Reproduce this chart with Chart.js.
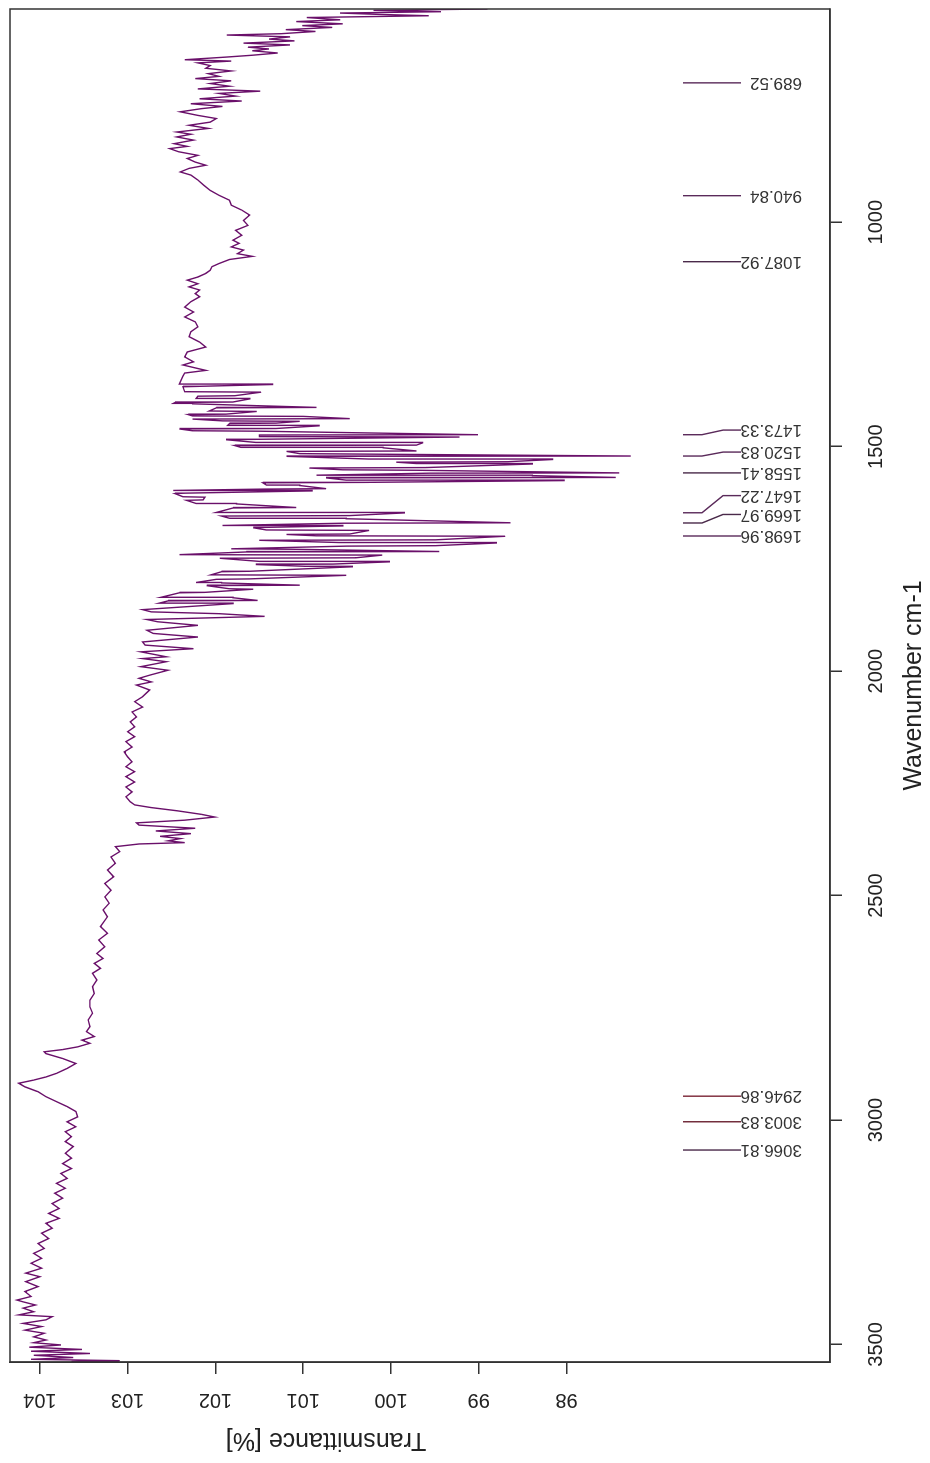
<!DOCTYPE html>
<html>
<head>
<meta charset="utf-8">
<title>IR spectrum</title>
<script src="https://cdn.jsdelivr.net/npm/chart.js"></script>
<style>
  html, body { margin: 0; padding: 0; background: #fff; }
  #wrap { position: relative; width: 930px; height: 1463px; overflow: hidden; }
  /* the plot is drawn landscape and turned a quarter turn, like the scan */
  #mycanvas { position: absolute; left: 0; top: 0; transform-origin: 0 0; transform: translateY(1463px) rotate(-90deg); }
</style>
</head>
<body>
<div id="wrap"><canvas id="mycanvas" width="1463" height="930"></canvas></div>
<script>
// spectrum (cm-1 / %)
var wavenumber = [
	3539,3538,3536,3533,3529,3524,3520,3515, 3511,3506,3501,3496,3490,3483,3475,3468,
	3460,3453,3445,3438,3434,3427,3419,3412, 3405,3401,3393,3382,3371,3360,3349,3341,
	3330,3319,3308,3297,3286,3275,3264,3252, 3241,3230,3219,3208,3197,3186,3174,3163,
	3152,3141,3130,3119,3108,3097,3085,3074, 3059,3048,3037,3026,3015,3004,2993,2981,
	2970,2959,2948,2937,2926,2918,2911,2904, 2896,2885,2874,2863,2852,2848,2843,2837,
	2829,2822,2814,2803,2792,2777,2762,2748, 2733,2718,2703,2688,2673,2662,2651,2640,
	2629,2614,2599,2584,2569,2547,2532,2517, 2503,2488,2473,2458,2443,2428,2414,2402,
	2391,2385,2382,2378,2373,2368,2362,2356, 2350,2343,2338,2332,2325,2319,2311,2304,
	2298,2291,2280,2269,2258,2247,2235,2224, 2213,2202,2191,2180,2169,2157,2146,2135,
	2124,2113,2102,2091,2080,2068,2057,2042, 2031,2024,2016,2009,1998,1990,1979,1972,
	1968,1957,1950,1942,1935,1924,1916,1909, 1898,1890,1885,1878,1872,1868,1863,
	// busy band 1850 - 1360
	1849.5,1848.5,1843.5,1842.5,1836.5,1835.5,1825.5,1824.5,1817.5,1816.5,
	1809.5,1808.5,1803.5,1802.5,1795.5,1794.5,1786.5,1785.5,1778.5,1777.5,
	1767.5,1766.5,1762.5,1761.5,1756.5,1755.5,1748.5,1747.5,1741.5,1740.5,
	1734.5,1733.5,1728.5,1727.5,1721.5,1720.5,1714.5,1713.5,1708.5,1707.5,
	1699.5,1698.5,1695.5,1694.5,1686.5,1685.5,1680.5,1679.5,1676.5,1675.5,
	1670.5,1669.5,1660.5,1659.5,1654.5,1653.5,1647.5,1646.5,1636.5,1635.5,
	1627.5,1626.5,1619.5,1618.5,1612.5,1611.5,1604.5,1603.5,1598.5,1597.5,
	1594.5,1593.5,1586.5,1585.5,1580.5,1579.5,1575.5,1574.5,1569.5,1568.5,
	1564.5,1563.5,1559,1558.4,1552.5,1551.5,1547.5,1546.5,1538.5,1537.5,
	1534.5,1533.5,1528.5,1527.5,1521.5,1520.8,1516.5,1515.5,1510.5,1509.5,
	1502.5,1501.5,1497.5,1496.5,1491.5,1490.5,1484.5,1483.5,1478.5,1477.5,
	1474,1473.3,1465.5,1464.5,1460.5,1459.5,1453.5,1452.5,1448.5,1447.5,
	1443.5,1442.5,1438.5,1437.5,1432.5,1431.5,1428.5,1427.5,1421.5,1420.5,
	1413.5,1412.5,1404.5,1403.5,1401.5,1400.5,1393.5,1392.5,1387.5,1386.5,
	1378.5,1377.5,1366.5,1365.5,1361.5,1360.5,
	1343,1336,1330,1318,
	1311,1300,1289,1278,1267,1255,1244,1233, 1222,1211,1200,1189,1177,1166,1159,1151,
	1144,1137,1129,1122,1114,1107,1099,1092, 1083,1076,1070,1062,1055,1047,1040,1029,
	1018,1007,996,984,973,962,951,940, 929,918,906,895,888,880,873,866,
	858,851,843,836,831,825,817,810, 804,799,791,784,777,769,762,754,
	747,742,736,730,725,719,713,708, 703,697,691,685,680,675,669,663,
	657,651,645,641,638,632,628,623, 618,614,610,605,601,596,592,587,
	583,580,575,571,566,562,558,553, 549,544,540,537,534,531,528,525
];
var transmittance = [
	103.11,103.64,103.09,104.10,103.62,104.07,103.43,104.10, 103.52,104.12,103.76,104.07,103.93,104.07,103.95,104.17,
	103.98,104.19,103.93,103.86,104.24,104.07,104.19,104.05, 104.19,104.26,104.10,104.17,104.02,104.16,104.00,104.16,
	103.98,104.10,103.98,104.07,103.95,104.02,103.90,103.98, 103.86,103.93,103.78,103.90,103.78,103.86,103.74,103.83,
	103.71,103.81,103.69,103.76,103.64,103.74,103.64,103.71, 103.62,103.71,103.64,103.71,103.59,103.69,103.57,103.59,
	103.69,103.81,103.93,104.02,104.17,104.24,104.07,103.93, 103.81,103.69,103.59,103.74,103.93,103.95,103.74,103.57,
	103.43,103.52,103.38,103.47,103.43,103.45,103.40,103.43, 103.43,103.38,103.40,103.35,103.40,103.31,103.38,103.28,
	103.35,103.26,103.33,103.23,103.31,103.23,103.28,103.21, 103.26,103.19,103.26,103.16,103.23,103.14,103.19,103.09,
	103.14,102.87,102.35,102.54,102.40,102.63,102.28,102.68, 102.23,102.87,102.90,102.35,102.01,102.16,102.44,102.73,
	102.92,102.97,103.02,102.95,103.02,102.92,103.02,102.92, 103.02,102.95,103.00,103.04,102.95,103.02,102.92,103.00,
	102.92,102.97,102.90,102.95,102.83,102.92,102.83,102.75, 102.90,102.73,102.87,102.75,102.54,102.85,102.56,102.83,
	102.56,102.85,102.25,102.80,102.83,102.20,102.71,102.78, 102.20,102.66,102.78,101.44,101.96,102.73,102.83,
	// busy band 1850 - 1360
	101.80,102.64,102.54,101.52,101.80,102.62,102.41,102.12,101.57,101.84,
	102.10,101.04,101.93,102.22,101.99,101.61,100.51,102.05,101.93,101.61,
	100.44,100.97,101.54,100.66,100.02,101.50,101.95,100.40,100.10,102.41,
	101.65,99.45,101.12,101.82,100.51,99.49,98.80,100.59,101.50,99.49,
	98.70,100.85,101.19,100.47,100.25,101.42,101.57,101.38,100.55,101.92,
	100.55,98.64,100.51,101.84,101.93,100.47,99.85,101.99,101.80,101.08,
	101.76,102.22,102.33,102.14,102.12,102.37,102.46,102.35,100.90,102.48,
	101.46,100.74,101.04,101.42,101.46,100.30,98.03,100.51,100.74,97.44,
	98.39,100.85,99.56,97.40,99.71,100.55,100.93,99.60,98.39,99.71,
	99.94,98.67,98.16,100.25,101.19,97.27,100.32,101.04,101.19,99.71,
	100.09,101.71,101.78,99.71,99.64,101.54,101.88,101.50,99.22,101.50,
	101.50,99.01,101.50,102.26,102.41,101.31,100.82,101.86,101.84,101.31,
	101.04,101.92,102.26,100.47,101.00,102.26,102.31,101.88,101.53,102.07,
	101.99,100.85,102.26,102.48,102.46,101.80,101.61,102.22,102.20,101.78,
	101.48,102.35,102.37,102.18,101.35,102.41,
	102.37,102.35,102.11,102.37,
	102.25,102.35,102.32,102.11,102.18,102.30,102.28,102.20, 102.23,102.35,102.25,102.35,102.28,102.18,102.23,102.18,
	102.30,102.20,102.32,102.20,102.11,102.06,102.04,101.96, 101.84,101.58,101.75,101.68,101.82,101.73,101.80,101.70,
	101.77,101.63,101.68,101.61,101.70,101.82,101.84,101.96, 102.06,102.13,102.20,102.28,102.40,102.30,102.11,102.23,
	102.32,102.20,102.42,102.52,102.32,102.47,102.25,102.44, 102.28,102.44,102.08,102.30,102.06,101.99,102.20,102.40,
	102.16,101.92,102.28,101.70,102.18,101.77,101.96,101.49, 102.20,101.84,102.06,101.82,102.23,101.96,102.08,101.82,
	102.11,102.06,102.20,101.82,102.35,101.87,101.58,101.29, 101.58,101.39,101.63,101.15,101.68,101.10,101.39,101.15,
	101.87,101.25,100.86,101.20,100.67,101.01,100.55,101.08, 100.58,100.96,99.57,100.14,100.58,99.43,100.20,98.90
];

// picked peaks and where their labels sit along the axis
var peakWavenumber = [689.52, 940.84, 1087.92, 1473.33, 1520.83, 1558.41, 1647.22, 1669.97, 1698.96, 2946.86, 3003.83, 3066.81];
var peakLabelAt    = [689.52, 940.84, 1087.92, 1463,    1512,    1558.41, 1609,    1651,    1698.96, 2946.86, 3003.83, 3066.81];
var peakColor = ['#5a2a5a','#5a2a5a','#4a2a4a','#5a2a5a','#5a2a5a','#4a2a4a','#5a2a5a','#4a2a4a','#5a2a5a','#7a2535','#6a2030','#4a2a4a'];

var xTicks = [1000, 1500, 2000, 2500, 3000, 3500];
var yTicks = [98, 99, 100, 101, 102, 103, 104];

var fontFamily = '"Liberation Sans", Arial, sans-serif';

var points = [];
for (var i in wavenumber) {
	points.push({x: wavenumber[i], y: transmittance[i]});
}

var boxPlugin = {
	id: 'box',
	afterDraw: function(chart) {
		var a = chart.chartArea, ctx = chart.ctx;
		ctx.save();
		ctx.strokeStyle = '#333';
		ctx.lineWidth = 1.5;
		ctx.strokeRect(a.left, a.top, a.right - a.left, a.bottom - a.top);
		// y axis title, sits off centre in the original
		ctx.fillStyle = '#222';
		ctx.font = '25px ' + fontFamily;
		ctx.textAlign = 'center';
		ctx.textBaseline = 'middle';
		ctx.translate(23, 326);
		ctx.rotate(-Math.PI / 2);
		ctx.fillText('Transmittance [%]', 0, 0);
		ctx.restore();
	}
};

var peakPlugin = {
	id: 'peaks',
	afterDatasetsDraw: function(chart) {
		var ctx = chart.ctx, xs = chart.scales.x;
		ctx.save();
		ctx.font = '17px ' + fontFamily;
		ctx.textAlign = 'left';
		ctx.textBaseline = 'middle';
		for (var i = 0; i < peakWavenumber.length; i++) {
			var px = xs.getPixelForValue(peakWavenumber[i]);
			var lx = xs.getPixelForValue(peakLabelAt[i]);
			ctx.strokeStyle = peakColor[i];
			ctx.lineWidth = 1.4;
			ctx.beginPath();
			ctx.moveTo(px, 683);
			ctx.lineTo(px, 702);
			ctx.lineTo(lx, 723);
			ctx.lineTo(lx, 741);
			ctx.stroke();
			ctx.save();
			ctx.translate(lx, 802);
			ctx.rotate(-Math.PI / 2);
			ctx.fillStyle = '#333';
			ctx.fillText(peakWavenumber[i].toFixed(2), 0, 0);
			ctx.restore();
		}
		ctx.restore();
	}
};

var ctx = document.getElementById('mycanvas');

var spectrum = new Chart(ctx, {
	type: 'line',
	data: {
		datasets: [{
			label: 'spectrum',
			data: points,
			borderColor: '#6a106a',
			borderWidth: 1.4,
			pointRadius: 0,
			tension: 0,
			fill: false
		}]
	},
	options: {
		responsive: false,
		animation: false,
		devicePixelRatio: 1,
		layout: { padding: { left: 0, right: 9, top: 10, bottom: 0 } },
		plugins: { legend: { display: false }, tooltip: { enabled: false } },
		scales: {
			x: {
				type: 'linear',
				reverse: true,
				min: 525,
				max: 3539,
				afterBuildTicks: function(s) { s.ticks = xTicks.map(function(v) { return {value: v}; }); },
				afterFit: function(s) { s.height = 100; s.paddingLeft = 0; s.paddingRight = 0; },
				ticks: { callback: function(v) { return String(v); }, font: { size: 20, family: fontFamily }, color: '#222', padding: 22, maxRotation: 0, autoSkip: false },
				grid: { drawOnChartArea: false, drawTicks: true, tickLength: 12, color: '#333', lineWidth: 1.5 },
				border: { display: true, color: '#333', width: 1.5 },
				title: { display: true, text: 'Wavenumber cm-1', color: '#222', font: { size: 25, family: fontFamily }, padding: { top: 0, bottom: 1 } }
			},
			y: {
				type: 'linear',
				min: 95.0,
				max: 104.34,
				afterBuildTicks: function(s) { s.ticks = yTicks.map(function(v) { return {value: v}; }); },
				afterFit: function(s) { s.width = 101; s.paddingTop = 0; s.paddingBottom = 0; },
				ticks: { callback: function(v) { return String(v); }, font: { size: 20, family: fontFamily }, color: '#222', padding: 9, minRotation: 90, maxRotation: 90, crossAlign: 'center', autoSkip: false },
				grid: { drawOnChartArea: false, drawTicks: true, tickLength: 12, color: '#333', lineWidth: 1.5 },
				border: { display: true, color: '#333', width: 1.5 }
			}
		}
	},
	plugins: [peakPlugin, boxPlugin]
});
</script>
</body>
</html>
